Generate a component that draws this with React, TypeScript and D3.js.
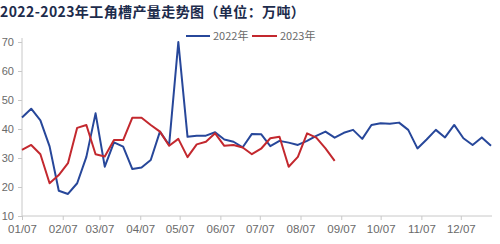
import React, { useEffect, useRef } from "react";
import * as d3 from "d3";

const title = "2022-2023年工角槽产量走势图（单位：万吨）";
const seriesNames = ["2022年", "2023年"];
const seriesColors = ["#27479a", "#c3282e"];

const startDate = "2022-01-07";
const endDate = "2022-12-30";

const values2022 = [
  44, 47, 43, 34, 18.7, 17.6, 21.3, 30.4, 45.4, 27, 35.4, 33.9, 26.2, 26.7, 29.3, 39.1,
  34.5, 70, 37.3, 37.7, 37.7, 38.9, 36.4, 35.6, 33.7, 38.3, 38.2, 34.1, 35.9, 35.3, 34.5,
  35.9, 37.6, 39.1, 37, 38.7, 39.7, 36.6, 41.4, 42, 41.8, 42.2, 39.7, 33.3, 36.4, 39.7,
  37.1, 41.4, 36.8, 34.5, 37.1, 34.2,
];
const values2023 = [
  32.8, 34.5, 31.3, 21.3, 24.1, 28.2, 40.4, 41.4, 31.3, 30.5, 36.2, 36.2, 43.9, 43.9, 41.4,
  39.1, 34.2, 36.6, 30.3, 34.7, 35.6, 38.5, 34.2, 34.5, 33.6, 31.3, 33.2, 36.8, 37.3, 27,
  30.4, 38.5, 37, 33.3, 29,
];
const yTicks = [10, 20, 30, 40, 50, 60, 70];

export default function App() {
  const ref = useRef<SVGSVGElement>(null);
  useEffect(() => {
    const svg = d3.select(ref.current);
    svg.selectAll("*").remove();
    const parse = d3.timeParse("%Y-%m-%d");
    const d0 = parse(startDate)!;
    const d1 = parse(endDate)!;
    const x = d3.scaleTime().domain([d0, d1]).range([22, 491]);
    const y = d3.scaleLinear().domain([10, 70]).range([216, 42]);

    svg.append("rect").attr("width", 500).attr("height", 244).attr("fill", "#fff");

    svg.append("text")
      .attr("x", 0).attr("y", 17)
      .attr("font-family", "'Noto Sans CJK SC', sans-serif")
      .attr("font-size", 14).attr("font-weight", 700)
      .attr("letter-spacing", 0.4)
      .attr("fill", "#1d2c4c")
      .text(title);

    const axisColor = "#c8c8c8";
    const labelColor = "#6a6a6a";
    const font = "'Liberation Sans', Arial, sans-serif";

    // y axis
    const ya = svg.append("g").attr("transform", "translate(22,0)")
      .call(d3.axisLeft(y).tickValues(yTicks).tickSize(4).tickPadding(4));
    ya.select(".domain").attr("stroke", axisColor).attr("d", `M0,${y(70) - 4}V${y(10)}`);
    ya.selectAll(".tick line").attr("stroke", axisColor);
    ya.selectAll("text").attr("fill", labelColor).attr("font-size", 11).attr("font-family", font);

    // x axis
    const months = d3.range(0, 12).map((m) => new Date(2022, m, 7));
    const xa = svg.append("g").attr("transform", "translate(0,216)")
      .call(d3.axisBottom(x).tickValues(months).tickFormat(d3.timeFormat("%m/%d") as any).tickSize(4).tickPadding(5));
    xa.select(".domain").attr("stroke", axisColor).attr("d", `M22,0H492`);
    xa.selectAll(".tick line").attr("stroke", axisColor);
    xa.selectAll("text").attr("fill", labelColor).attr("font-size", 11.5).attr("font-family", font);

    const line = d3.line<number>()
      .x((_, i) => x(d3.timeDay.offset(d0, 7 * i)))
      .y((v) => y(v));

    [values2022, values2023].forEach((vals, k) => {
      svg.append("path").datum(vals)
        .attr("d", line)
        .attr("fill", "none")
        .attr("stroke", seriesColors[k])
        .attr("stroke-width", 2)
        .attr("stroke-linejoin", "round");
    });

    // legend
    const lg = [
      { x1: 186, x2: 210, tx: 213 },
      { x1: 252, x2: 277, tx: 280 },
    ];
    lg.forEach((l, k) => {
      svg.append("line").attr("x1", l.x1).attr("x2", l.x2).attr("y1", 36).attr("y2", 36)
        .attr("stroke", seriesColors[k]).attr("stroke-width", 2);
      svg.append("text").attr("x", l.tx).attr("y", 40)
        .attr("font-size", 11).attr("fill", labelColor)
        .attr("font-family", "'Noto Sans CJK SC', sans-serif")
        .text(seriesNames[k]);
    });
  }, []);
  return (
    <svg ref={ref} width={500} height={244} style={{ position: "absolute", left: 0, top: 0 }} />
  );
}
